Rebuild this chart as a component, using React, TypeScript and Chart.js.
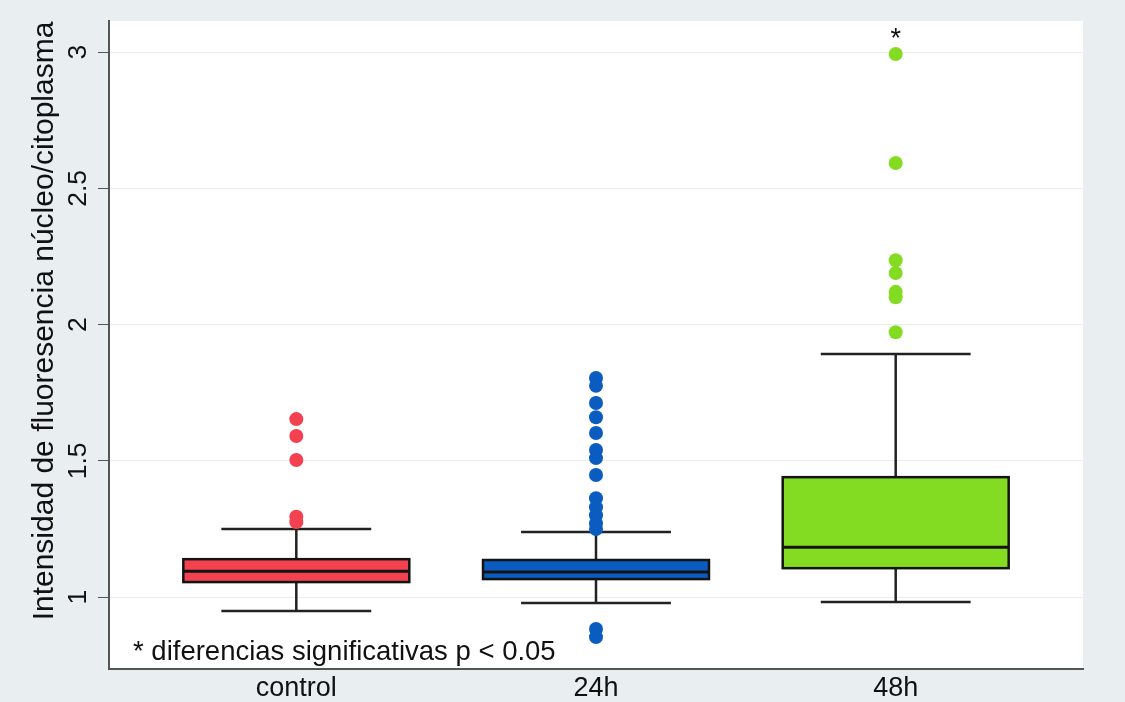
import React, { useEffect, useRef } from "react";
import { Chart, registerables } from "chart.js";

Chart.register(...registerables);

// ---- data ----
const categories = ["control", "24h", "48h"];
const lowerWhisker = [0.949, 0.978, 0.982];
const quartile1 = [1.055, 1.066, 1.106];
const medians = [1.095, 1.092, 1.183];
const quartile3 = [1.139, 1.136, 1.44];
const upperWhisker = [1.25, 1.239, 1.892];
const outliersControl = [1.653, 1.591, 1.503, 1.295, 1.275];
const outliers24h = [1.804, 1.775, 1.712, 1.66, 1.602, 1.54, 1.51, 1.448, 1.363, 1.33, 1.3, 1.27, 1.25, 0.883, 0.853];
const outliers48h = [2.993, 2.593, 2.236, 2.189, 2.12, 2.1, 1.972];
const yTickValues = [1, 1.5, 2, 2.5, 3];
const yAxisTitle = "Intensidad de fluoresencia núcleo/citoplasma";
const footnote = "* diferencias significativas p < 0.05";
const significanceMark = "*";
const significanceIndex = 2;
const significanceY = 3.02;

// ---- styles ----
const boxColors = ["#f3414f", "#0a5cc1", "#84dc22"];
const FONT = '"Liberation Sans", Arial, Helvetica, sans-serif';
const BG = "#e9eef1";
const BOX_HALF = 0.377;
const CAP_HALF = 0.25;

const boxPlugin = {
  id: "boxplotDrawer",
  beforeDraw(chart: any) {
    const { ctx, chartArea: a } = chart;
    ctx.save();
    ctx.fillStyle = "#ffffff";
    ctx.fillRect(a.left, a.top, a.right - a.left, a.bottom - a.top);
    ctx.restore();
  },
  beforeDatasetsDraw(chart: any) {
    const { ctx } = chart;
    const xs = chart.scales.x;
    const ys = chart.scales.y;
    ctx.save();
    categories.forEach((_, i) => {
      const xc = xs.getPixelForValue(i + 1);
      const bl = xs.getPixelForValue(i + 1 - BOX_HALF);
      const br = xs.getPixelForValue(i + 1 + BOX_HALF);
      const cl = xs.getPixelForValue(i + 1 - CAP_HALF);
      const cr = xs.getPixelForValue(i + 1 + CAP_HALF);
      const yq1 = ys.getPixelForValue(quartile1[i]);
      const yq3 = ys.getPixelForValue(quartile3[i]);
      const ym = ys.getPixelForValue(medians[i]);
      const ylo = ys.getPixelForValue(lowerWhisker[i]);
      const yhi = ys.getPixelForValue(upperWhisker[i]);
      ctx.strokeStyle = "#222222";
      ctx.lineWidth = 2.5;
      ctx.beginPath();
      ctx.moveTo(xc, yq3);
      ctx.lineTo(xc, yhi);
      ctx.moveTo(cl, yhi);
      ctx.lineTo(cr, yhi);
      ctx.moveTo(xc, yq1);
      ctx.lineTo(xc, ylo);
      ctx.moveTo(cl, ylo);
      ctx.lineTo(cr, ylo);
      ctx.stroke();
      ctx.fillStyle = boxColors[i];
      ctx.fillRect(bl, yq3, br - bl, yq1 - yq3);
      ctx.strokeStyle = "#141414";
      ctx.lineWidth = 2.5;
      ctx.strokeRect(bl, yq3, br - bl, yq1 - yq3);
      ctx.lineWidth = 3;
      ctx.beginPath();
      ctx.moveTo(bl, ym);
      ctx.lineTo(br, ym);
      ctx.stroke();
    });
    ctx.restore();
  },
  afterDraw(chart: any) {
    const { ctx, chartArea: a } = chart;
    const xs = chart.scales.x;
    const ys = chart.scales.y;
    ctx.save();
    ctx.fillStyle = "#111111";
    // significance mark
    ctx.font = `27px ${FONT}`;
    ctx.textAlign = "center";
    ctx.textBaseline = "alphabetic";
    ctx.fillText(significanceMark, xs.getPixelForValue(significanceIndex + 1), ys.getPixelForValue(significanceY));
    // footnote
    ctx.font = `27.5px ${FONT}`;
    ctx.textAlign = "left";
    ctx.fillText(footnote, a.left + 24, a.bottom - 9);
    // y-axis title
    ctx.font = `30px ${FONT}`;
    ctx.translate(45, (a.top + a.bottom) / 2 - 24);
    ctx.rotate(-Math.PI / 2);
    ctx.textAlign = "center";
    ctx.textBaseline = "middle";
    ctx.fillText(yAxisTitle, 0, 0);
    ctx.restore();
  },
};

function outlierSet(values: number[], i: number) {
  return {
    label: categories[i],
    data: values.map((v) => ({ x: i + 1, y: v })),
    backgroundColor: boxColors[i],
    borderWidth: 0,
    pointRadius: 7,
    pointHoverRadius: 7,
    showLine: false,
  };
}

export default function App() {
  const canvasRef = useRef<HTMLCanvasElement | null>(null);

  useEffect(() => {
    const canvas = canvasRef.current;
    if (!canvas) return;
    const chart = new Chart(canvas, {
      type: "scatter",
      data: {
        datasets: [
          outlierSet(outliersControl, 0),
          outlierSet(outliers24h, 1),
          outlierSet(outliers48h, 2),
        ],
      },
      options: {
        animation: false,
        responsive: true,
        maintainAspectRatio: false,
        layout: { padding: { top: 21, right: 42, bottom: 0, left: 0 } },
        plugins: {
          legend: { display: false },
          tooltip: { enabled: false },
        },
        scales: {
          x: {
            type: "linear",
            min: 0.375,
            max: 3.625,
            afterBuildTicks: (scale: any) => {
              scale.ticks = categories.map((_, i) => ({ value: i + 1 }));
            },
            afterFit: (scale: any) => {
              scale.height = 33;
            },
            grid: { display: false, drawTicks: false },
            border: { display: true, color: "#555", width: 2 },
            ticks: {
              autoSkip: false,
              maxRotation: 0,
              padding: 3,
              color: "#111111",
              font: { family: FONT, size: 27 },
              callback: (v: any) => categories[Math.round(Number(v)) - 1] ?? "",
            },
          },
          y: {
            type: "linear",
            min: 0.736,
            max: 3.114,
            afterBuildTicks: (scale: any) => {
              scale.ticks = yTickValues.map((v) => ({ value: v }));
            },
            afterFit: (scale: any) => {
              scale.width = 109;
            },
            grid: {
              color: "#ececec",
              lineWidth: 1,
              tickColor: "#555",
              tickLength: 11,
              drawTicks: true,
            },
            border: { display: true, color: "#555", width: 2 },
            ticks: {
              minRotation: 90,
              maxRotation: 90,
              crossAlign: "center",
              padding: 1,
              color: "#111111",
              font: { family: FONT, size: 26.5 },
              callback: (v: any) => String(v),
            },
          },
        },
      },
      plugins: [boxPlugin],
    } as any);
    return () => chart.destroy();
  }, []);

  return (
    <div style={{ position: "fixed", left: 0, top: 0, width: 1125, height: 702, background: BG }}>
      <canvas ref={canvasRef} />
    </div>
  );
}
